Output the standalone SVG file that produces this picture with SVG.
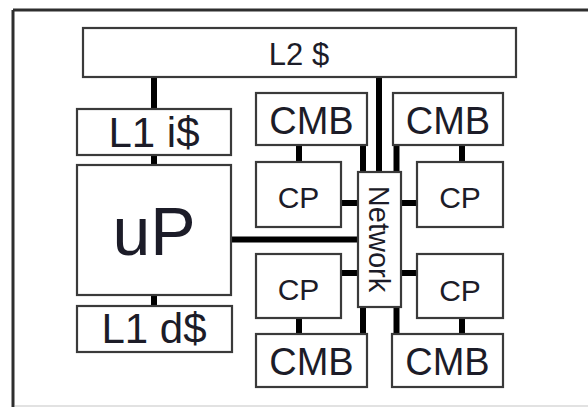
<svg xmlns="http://www.w3.org/2000/svg" width="588" height="407" viewBox="0 0 588 407">
<style>
.box{fill:#fff;stroke:#3a3a3a;stroke-width:2.2}
.t{font-family:"Liberation Sans",Arial,sans-serif;fill:#1c1c28;text-anchor:middle}
.c{stroke:#000;stroke-width:6;fill:none}
</style>
<rect width="588" height="407" fill="#fff"/>
<g id="frame">
<line x1="13" y1="10" x2="588" y2="10" stroke="#2e2e2e" stroke-width="3"/>
<line x1="13" y1="10" x2="13" y2="407" stroke="#2e2e2e" stroke-width="3"/>
<line x1="15" y1="406" x2="588" y2="406" stroke="#d8d8d8" stroke-width="1.5"/>
</g>
<g id="connectors">
<line class="c" x1="154" y1="77" x2="154" y2="109"/>
<line class="c" x1="154" y1="155" x2="154" y2="165"/>
<line class="c" x1="154" y1="295" x2="154" y2="306"/>
<line class="c" x1="231" y1="239.5" x2="358" y2="239.5"/>
<line class="c" x1="379" y1="77" x2="379" y2="172" stroke-width="8"/>
<line class="c" x1="363" y1="145" x2="363" y2="172"/>
<line class="c" x1="396.5" y1="145" x2="396.5" y2="172"/>
<line class="c" x1="363" y1="307" x2="363" y2="334"/>
<line class="c" x1="396.5" y1="307" x2="396.5" y2="334"/>
<line class="c" x1="299" y1="145" x2="299" y2="162"/>
<line class="c" x1="462" y1="145" x2="462" y2="162"/>
<line class="c" x1="299" y1="318" x2="299" y2="334"/>
<line class="c" x1="462" y1="318" x2="462" y2="334"/>
<line class="c" x1="341" y1="203" x2="358" y2="203"/>
<line class="c" x1="401" y1="203" x2="417" y2="203"/>
<line class="c" x1="341" y1="273" x2="358" y2="273"/>
<line class="c" x1="401" y1="273" x2="417" y2="273"/>
</g>
<g id="l2">
<rect class="box" x="83" y="28" width="433" height="49"/>
<text class="t" x="299" y="65" font-size="31">L2 $</text>
</g>
<g id="l1i">
<rect class="box" x="77" y="109" width="154" height="46"/>
<text class="t" x="154" y="147" font-size="42">L1 i$</text>
</g>
<g id="up">
<rect class="box" x="77" y="165" width="154" height="130"/>
<text class="t" x="154" y="255" font-size="68">uP</text>
</g>
<g id="l1d">
<rect class="box" x="77" y="306" width="155" height="46"/>
<text class="t" x="154" y="343" font-size="42">L1 d$</text>
</g>
<g id="network">
<rect class="box" x="358" y="172" width="43" height="135"/>
<text class="t" font-size="29" transform="translate(369,239) rotate(90)">Network</text>
</g>
<g id="cmb-tl">
<rect class="box" x="256" y="93" width="111" height="52"/>
<text class="t" x="311.5" y="134" font-size="38">CMB</text>
</g>
<g id="cmb-tr">
<rect class="box" x="393" y="93" width="110" height="52"/>
<text class="t" x="448" y="134" font-size="38">CMB</text>
</g>
<g id="cp-tl">
<rect class="box" x="256" y="162" width="85" height="65"/>
<text class="t" x="298.5" y="208" font-size="30">CP</text>
</g>
<g id="cp-tr">
<rect class="box" x="417" y="162" width="86" height="65"/>
<text class="t" x="460" y="208" font-size="30">CP</text>
</g>
<g id="cp-bl">
<rect class="box" x="256" y="254" width="85" height="64"/>
<text class="t" x="298.5" y="300" font-size="30">CP</text>
</g>
<g id="cp-br">
<rect class="box" x="417" y="254" width="86" height="64"/>
<text class="t" x="460" y="301" font-size="30">CP</text>
</g>
<g id="cmb-bl">
<rect class="box" x="256" y="334" width="111" height="53"/>
<text class="t" x="311.5" y="375" font-size="38">CMB</text>
</g>
<g id="cmb-br">
<rect class="box" x="392" y="334" width="111" height="53"/>
<text class="t" x="447.5" y="375" font-size="38">CMB</text>
</g>
</svg>
